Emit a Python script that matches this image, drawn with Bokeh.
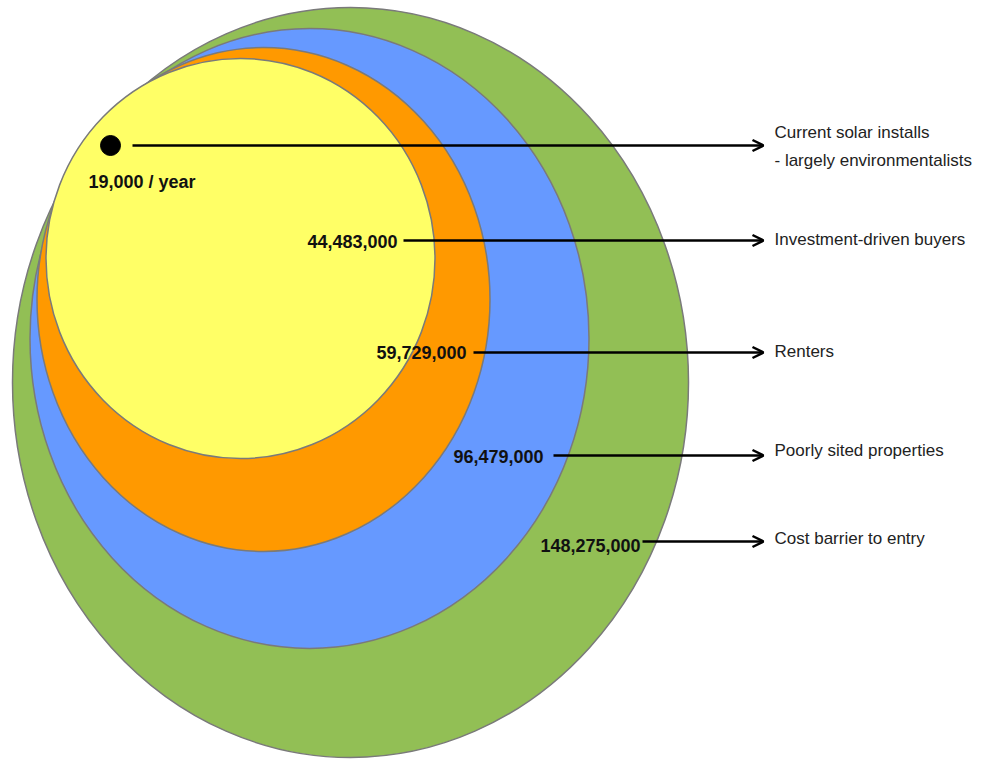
from bokeh.plotting import figure
from bokeh.models import Range1d, ColumnDataSource, Arrow, OpenHead
from bokeh.core.properties import value
from bokeh.embed import file_html
from bokeh.resources import INLINE

# ---- data ----
segments = ["Current solar installs\n- largely environmentalists",
            "Investment-driven buyers",
            "Renters",
            "Poorly sited properties",
            "Cost barrier to entry"]
counts = [19000, 44483000, 59729000, 96479000, 148275000]
count_labels = ["19,000 / year"] + [f"{c:,}" for c in counts[1:]]

# ---- layout (pixel coordinates of the diagram) ----
ell_colors = ["#FFFF66", "#FF9900", "#6699FF", "#92BF55"]   # yellow, orange, blue, green
ell_cx = [240, 263, 309, 350]
ell_cy = [258, 299, 338, 382]
ell_w = [389, 453, 559, 676]
ell_h = [400, 504, 620, 750]

row_y = [145, 240, 352, 455, 541]
label_x = [88, 397, 466, 543, 640]
label_y = [181, 241, 352, 456, 545]
line_x0 = [132, 403, 473, 553, 642]
arrow_tip = 763
seg_x = 774
seg_y = [146, 239, 351, 450, 538]

W, H = 975, 761
p = figure(width=W, height=H, output_backend="svg", toolbar_location=None,
           x_range=Range1d(0, W), y_range=Range1d(H, 0),
           min_border=0)
p.axis.visible = False
p.grid.visible = False
p.outline_line_color = None
p.background_fill_color = "white"

# ellipses, largest first
order = [3, 2, 1, 0]
src = ColumnDataSource(dict(
    x=[ell_cx[i] for i in order], y=[ell_cy[i] for i in order],
    w=[ell_w[i] for i in order], h=[ell_h[i] for i in order],
    c=[ell_colors[i] for i in order]))
p.ellipse(x="x", y="y", width="w", height="h", fill_color="c",
          line_color="#7a7a7a", line_width=1.5, source=src)

# dot for current installs
p.scatter(x=[110], y=[row_y[0]], size=20, fill_color="black", line_color="black")

# arrows
asrc = ColumnDataSource(dict(x0=line_x0, x1=[arrow_tip] * 5, y=row_y))
p.add_layout(Arrow(end=OpenHead(size=11, line_width=2.5, line_color="black"),
                   x_start="x0", y_start="y", x_end="x1", y_end="y",
                   line_width=2.5, line_color="black", source=asrc))

# count labels
font = value("Liberation Sans")
p.text(x=[label_x[0]], y=[label_y[0]], text=[count_labels[0]], text_font=font,
       text_font_size="18px", text_font_style="bold", text_color="#111111",
       text_align="left", text_baseline="middle")
p.text(x=label_x[1:], y=label_y[1:], text=count_labels[1:], text_font=font,
       text_font_size="18px", text_font_style="bold", text_color="#111111",
       text_align="right", text_baseline="middle")

# segment labels
p.text(x=[seg_x] * 5, y=seg_y, text=segments, text_font=font,
       text_font_size="17px", text_color="#222222",
       text_align="left", text_baseline="middle", text_line_height=1.45)

open("out.html", "w").write(file_html(p, INLINE))
